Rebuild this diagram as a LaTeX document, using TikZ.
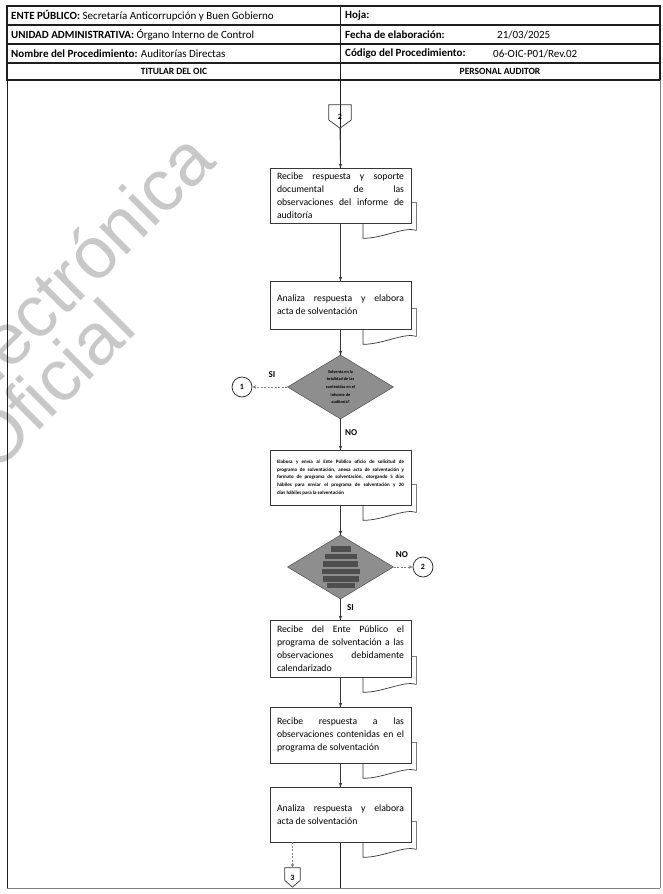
\documentclass[tikz,border=0pt]{standalone}
\usepackage{fontspec}
\setmainfont{Carlito}
\newfontfamily\wmfont{Liberation Sans}
\usetikzlibrary{shapes.geometric,arrows.meta,calc}

\definecolor{framec}{RGB}{30,30,30}
\definecolor{flowc}{RGB}{55,55,55}
\definecolor{decfill}{RGB}{142,142,142}
\definecolor{decline}{RGB}{90,90,90}
\definecolor{barc}{RGB}{78,78,78}
\definecolor{wmark}{RGB}{200,200,200}

\tikzset{
  tblline/.style={draw=framec, line width=1.4pt},
  laneline/.style={draw=framec, line width=0.9pt},
  hdr/.style={anchor=west, inner sep=0pt, font=\fontsize{11}{13}\selectfont},
  lanehdr/.style={inner sep=0pt, font=\bfseries\fontsize{9.5}{11}\selectfont},
  proc/.style={draw=flowc, line width=0.7pt, fill=white, text width=127pt,
    inner xsep=7pt, inner ysep=1pt, align=justify,
    font=\fontsize{9.7}{13}\selectfont},
  procsmall/.style={proc, font=\bfseries\fontsize{5}{7.8}\selectfont},
  decision/.style={diamond, draw=decline, line width=0.6pt, fill=decfill,
    aspect=1.66, inner sep=0pt, minimum width=106pt, minimum height=64pt,
    align=center, font=\bfseries\fontsize{4.3}{7.7}\selectfont},
  offpage/.style={inner sep=0pt, font=\bfseries\fontsize{8}{9}\selectfont},
  onpage/.style={circle, draw=framec, line width=0.7pt, fill=white,
    minimum size=20pt, inner sep=0pt, font=\bfseries\fontsize{8}{9}\selectfont},
  flow/.style={draw=flowc, line width=0.8pt, -{Stealth[length=4pt,width=3.5pt]}},
  jump/.style={draw=gray, line width=0.7pt, dash pattern=on 2pt off 1.5pt,
    -{Stealth[length=4pt,width=3.5pt]}},
  answer/.style={inner sep=0pt, font=\bfseries\fontsize{9}{10}\selectfont},
  wm/.style={anchor=base west, rotate=45, inner sep=0pt, text=wmark,
    font=\wmfont\fontsize{73}{73}\selectfont},
}

% visible part of the second sheet behind a process box
\newcommand\backdoc[1]{%
  \draw[flowc, line width=0.7pt]
    ($(#1.south east)+(0,-21)$) -- ++(5,0) -- ++(0,28)
    .. controls +(-12,-4) and +(20,0) .. ($(#1.south -| backx)+(0,15)$)
    -- (#1.south -| backx);
}
% off-page connector outline around a node
\newcommand\offpagebox[1]{%
  \draw[flowc, line width=0.7pt]
    (#1.north west) -- (#1.north east)
    -- ($(#1.north east)!0.65!(#1.south east)$) -- (#1.south)
    -- ($(#1.north west)!0.65!(#1.south west)$) -- cycle;
}

\begin{document}
\begin{tikzpicture}[x=1pt,y=-1pt]
\useasboundingbox (0,0) rectangle (662,894);
\fill[white] (0,0) rectangle (662,894);
\coordinate (backx) at (363,0);

% watermark
\begin{scope}
  \clip (0,0) rectangle (662,894);
  \node[wm] (wm1) at (-37,419) {Electrónica};
  \node[wm] (wm2) at (-5,475) {Oficial};
\end{scope}

% header table
\draw[tblline] (7,6) rectangle (660,80);
\draw[tblline] (7,25) -- (660,25);
\draw[tblline] (7,44) -- (660,44);
\draw[tblline] (7,63) -- (660,63);
\draw[tblline] (340.5,6) -- (340.5,80);

\node[hdr] (ente) at (11,15.5) {\textbf{ENTE PÚBLICO:} Secretaría Anticorrupción y Buen Gobierno};
\node[hdr] (unidad) at (11,34.5) {\textbf{UNIDAD ADMINISTRATIVA:} Órgano Interno de Control};
\node[hdr] (nombre) at (11,53.5) {\textbf{Nombre del Procedimiento:} Auditorías Directas};
\node[lanehdr] (titular) at (174,71.5) {TITULAR DEL OIC};
\node[hdr] (hoja) at (345,15.5) {\textbf{Hoja:}};
\node[hdr] (fecha) at (345,34.5) {\textbf{Fecha de elaboración:}};
\node[hdr] (fechav) at (497,34.5) {21/03/2025};
\node[hdr] (codigo) at (345,53.5) {\textbf{Código del Procedimiento:}};
\node[hdr] (codigov) at (493,53.5) {06-OIC-P01/Rev.02};
\node[lanehdr] (auditor) at (500,71.5) {PERSONAL AUDITOR};

% lanes
\draw[laneline] (7,80) -- (7,888);
\draw[draw=gray, line width=0.7pt] (660,80) -- (660,888);
\draw[draw=gray, line width=0.8pt] (7,888) -- (660,888);
\draw[laneline] (340.5,80) -- (340.5,888);

% off-page connector at the top
\node[offpage, minimum width=22pt, minimum height=23pt] (c2) at (340,116.5) {2};
\offpagebox{c2}

% process boxes
\node[proc, minimum height=55pt] (box1) at (340.5,195.5)
  {Recibe respuesta y soporte\linebreak documental de las\linebreak observaciones del informe de\linebreak auditoría};
\backdoc{box1}

\node[proc, minimum height=48pt] (box2) at (340.5,305)
  {Analiza respuesta y elabora\linebreak acta de solventación};
\backdoc{box2}

\node[decision] (d1) at (340.5,387)
  {Solventa en la\\totalidad de las\\contenidas en el\\informe de\\auditoría?};

\node[onpage] (on1) at (242,387) {1};
\node[answer] (si1) at (272,375) {SI};
\node[answer, anchor=west] (no1) at (345,433) {NO};

\node[procsmall, minimum height=55pt] (box3) at (340.5,477.5)
  {Elabora y envía al Ente Público oficio de solicitud de\linebreak programa de solventación, anexa acta de solventación y\linebreak formato de programa de solventación, otorgando 5 días\linebreak hábiles para enviar el programa de solventación y 20\linebreak días hábiles para la solventación};
\backdoc{box3}

\node[decision] (d2) at (340.5,567) {};
\foreach \dy/\w in {-18/20, -10.5/32, -3/35, 4.5/38, 12/36, 18.5/28}
  \fill[barc] ($(d2.center)+(-\w/2,\dy-2.7)$) rectangle ++(\w,5.4);

\node[onpage] (on2) at (423,567) {2};
\node[answer] (no2) at (402,555) {NO};
\node[answer, anchor=west] (si2) at (347,608) {SI};

\node[proc, minimum height=57pt] (box4) at (340.5,648.5)
  {Recibe del Ente Público el\linebreak programa de solventación a las\linebreak observaciones debidamente\linebreak calendarizado};
\backdoc{box4}

\node[proc, minimum height=56pt] (box5) at (340.5,735)
  {Recibe respuesta a las\linebreak observaciones contenidas en el\linebreak programa de solventación};
\backdoc{box5}

\node[proc, minimum height=55pt] (box6) at (340.5,814.5)
  {Analiza respuesta y elabora\linebreak acta de solventación};
\backdoc{box6}

% off-page connector at the bottom
\node[offpage, minimum width=15pt, minimum height=19pt] (c3) at (292.5,877.5) {3};
\offpagebox{c3}

% connectors
\draw[flow] (c2.south) -- (box1.north);
\draw[flow] (box1.south) -- (box2.north);
\draw[flow] (box2.south) -- (d1.north);
\draw[flow] (d1.south) -- (box3.north);
\draw[flow] (box3.south) -- (d2.north);
\draw[flow] (d2.south) -- (box4.north);
\draw[flow] (box4.south) -- (box5.north);
\draw[flow] (box5.south) -- (box6.north);
\draw[jump] (d1.west) -- (on1.east);
\draw[jump] (d2.east) -- (on2.west);
\draw[jump] (box6.south -| c3.north) -- (c3.north);
\end{tikzpicture}
\end{document}
